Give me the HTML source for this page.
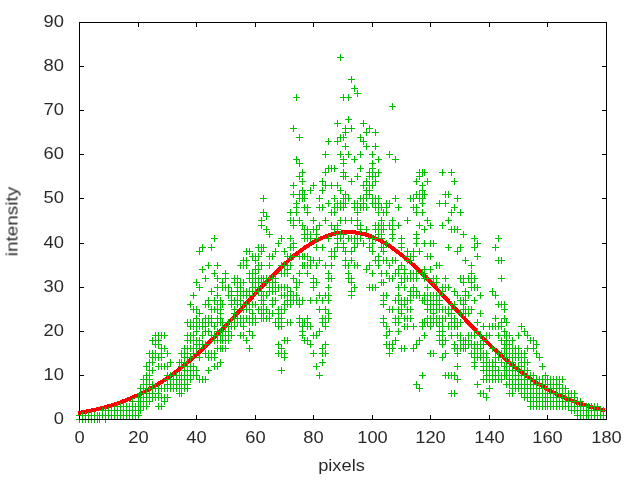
<!DOCTYPE html>
<html><head><meta charset="utf-8"><title>plot</title>
<style>html,body{margin:0;padding:0;background:#fff;overflow:hidden}svg{display:block}text{font-family:"Liberation Sans",sans-serif;font-size:16px;fill:#000}</style></head>
<body>
<svg width="640" height="480" viewBox="0 0 640 480">
<rect width="640" height="480" fill="#fff"/>
<g shape-rendering="crispEdges" fill="none" stroke="#000" stroke-width="1">
<path transform="translate(0,0.5)" d="M79 419h5M602 419h5M79 375h5M602 375h5M79 331h5M602 331h5M79 287h5M602 287h5M79 243h5M602 243h5M79 198h5M602 198h5M79 154h5M602 154h5M79 110h5M602 110h5M79 66h5M602 66h5M79 22h5M602 22h5"/>
<path transform="translate(0.5,0)" d="M79 415v5M79 22v5M138 415v5M138 22v5M196 415v5M196 22v5M255 415v5M255 22v5M313 415v5M313 22v5M372 415v5M372 22v5M430 415v5M430 22v5M489 415v5M489 22v5M547 415v5M547 22v5M606 415v5M606 22v5"/>
</g>
<polyline shape-rendering="crispEdges" fill="none" stroke="#ff0000" stroke-width="4" stroke-linejoin="round" points="78.0,412.8 79.5,412.8 82.4,412.3 85.4,411.7 88.3,411.2 91.2,410.6 94.1,409.9 97.1,409.3 100.0,408.6 102.9,407.8 105.8,407.0 108.8,406.2 111.7,405.3 114.6,404.3 117.6,403.4 120.5,402.3 123.4,401.3 126.3,400.1 129.3,398.9 132.2,397.7 135.1,396.4 138.1,395.0 141.0,393.6 143.9,392.1 146.8,390.6 149.8,389.0 152.7,387.3 155.6,385.6 158.6,383.8 161.5,382.0 164.4,380.0 167.3,378.1 170.3,376.0 173.2,373.9 176.1,371.7 179.0,369.4 182.0,367.1 184.9,364.7 187.8,362.3 190.8,359.8 193.7,357.2 196.6,354.6 199.5,351.9 202.5,349.2 205.4,346.4 208.3,343.5 211.2,340.6 214.2,337.7 217.1,334.7 220.0,331.7 223.0,328.6 225.9,325.6 228.8,322.4 231.7,319.3 234.7,316.1 237.6,313.0 240.5,309.8 243.5,306.6 246.4,303.4 249.3,300.2 252.2,297.0 255.2,293.9 258.1,290.7 261.0,287.6 263.9,284.5 266.9,281.4 269.8,278.4 272.7,275.5 275.7,272.6 278.6,269.7 281.5,266.9 284.4,264.2 287.4,261.6 290.3,259.0 293.2,256.5 296.2,254.2 299.1,251.9 302.0,249.7 304.9,247.6 307.9,245.7 310.8,243.9 313.7,242.1 316.6,240.5 319.6,239.1 322.5,237.7 325.4,236.5 328.4,235.5 331.3,234.5 334.2,233.8 337.1,233.1 340.1,232.6 343.0,232.3 345.9,232.1 348.9,232.0 351.8,232.1 354.7,232.4 357.6,232.8 360.6,233.3 363.5,234.0 366.4,234.8 369.4,235.8 372.3,236.9 375.2,238.1 378.1,239.5 381.1,241.0 384.0,242.6 386.9,244.4 389.8,246.3 392.8,248.3 395.7,250.4 398.6,252.6 401.6,254.9 404.5,257.3 407.4,259.8 410.3,262.4 413.3,265.0 416.2,267.8 419.1,270.6 422.1,273.4 425.0,276.4 427.9,279.3 430.8,282.4 433.8,285.4 436.7,288.5 439.6,291.7 442.5,294.8 445.5,298.0 448.4,301.2 451.3,304.4 454.3,307.5 457.2,310.7 460.1,313.9 463.0,317.1 466.0,320.2 468.9,323.4 471.8,326.5 474.8,329.6 477.7,332.6 480.6,335.6 483.5,338.6 486.5,341.5 489.4,344.4 492.3,347.2 495.2,350.0 498.2,352.7 501.1,355.4 504.0,358.0 507.0,360.5 509.9,363.0 512.8,365.5 515.7,367.8 518.7,370.1 521.6,372.4 524.5,374.5 527.5,376.6 530.4,378.7 533.3,380.6 536.2,382.5 539.2,384.4 542.1,386.1 545.0,387.9 547.9,389.5 550.9,391.1 553.8,392.6 556.7,394.1 559.7,395.5 562.6,396.8 565.5,398.1 568.4,399.3 571.4,400.5 574.3,401.6 577.2,402.7 580.1,403.7 583.1,404.6 586.0,405.5 588.9,406.4 591.9,407.2 594.8,408.0 597.7,408.8 600.6,409.5 603.6,410.1 605.1,410.1"/>
<g shape-rendering="crispEdges" fill="none" stroke="#00c000" stroke-width="1">
<path transform="translate(0,0.5)" d="M76 419h7M76 415h7M79 419h7M79 415h7M82 419h7M82 415h7M85 419h7M85 415h7M88 419h7M88 415h7M91 419h7M91 415h7M94 419h7M94 415h7M96 419h7M96 415h7M99 415h7M99 410h7M102 419h7M102 415h7M102 410h7M105 415h7M105 410h7M108 415h7M108 410h7M111 415h7M111 410h7M114 415h7M114 410h7M114 406h7M117 415h7M117 410h7M117 406h7M120 415h7M120 410h7M120 406h7M123 415h7M123 410h7M123 406h7M126 415h7M126 410h7M126 406h7M129 415h7M129 410h7M129 406h7M129 401h7M132 415h7M132 410h7M132 406h7M135 415h7M135 410h7M135 406h7M135 401h7M135 397h7M137 410h7M137 406h7M137 401h7M137 397h7M137 393h7M137 388h7M140 406h7M140 401h7M140 397h7M140 393h7M140 388h7M140 384h7M140 379h7M143 406h7M143 401h7M143 397h7M143 393h7M143 388h7M143 384h7M143 379h7M143 375h7M143 366h7M146 401h7M146 397h7M146 393h7M146 388h7M146 384h7M146 379h7M146 375h7M146 370h7M146 362h7M146 353h7M149 397h7M149 393h7M149 388h7M149 384h7M149 370h7M149 362h7M149 357h7M149 353h7M149 340h7M152 397h7M152 388h7M152 357h7M152 353h7M152 344h7M152 340h7M152 335h7M155 406h7M155 397h7M155 393h7M155 388h7M155 366h7M155 357h7M155 344h7M155 340h7M155 335h7M158 406h7M158 397h7M158 388h7M158 366h7M158 357h7M158 353h7M158 348h7M158 335h7M161 401h7M161 397h7M161 388h7M161 366h7M161 348h7M161 335h7M164 397h7M164 388h7M164 384h7M164 379h7M164 375h7M164 366h7M164 353h7M167 388h7M167 384h7M167 379h7M167 375h7M167 362h7M170 388h7M170 384h7M170 379h7M170 375h7M173 388h7M173 384h7M173 379h7M173 375h7M176 393h7M176 388h7M176 384h7M176 379h7M176 375h7M176 362h7M178 393h7M178 388h7M178 384h7M178 379h7M178 375h7M178 366h7M178 362h7M178 353h7M181 388h7M181 384h7M181 379h7M181 375h7M181 370h7M181 366h7M181 362h7M181 357h7M181 353h7M181 348h7M184 388h7M184 384h7M184 379h7M184 375h7M184 370h7M184 366h7M184 357h7M184 353h7M184 348h7M184 340h7M184 335h7M184 322h7M187 379h7M187 375h7M187 370h7M187 366h7M187 357h7M187 348h7M187 340h7M187 335h7M187 326h7M187 322h7M187 304h7M190 375h7M190 370h7M190 366h7M190 353h7M190 348h7M190 340h7M190 335h7M190 326h7M190 322h7M190 309h7M190 295h7M193 375h7M193 370h7M193 348h7M193 344h7M193 340h7M193 331h7M193 326h7M193 322h7M193 318h7M193 309h7M193 282h7M196 379h7M196 357h7M196 348h7M196 344h7M196 340h7M196 326h7M196 322h7M196 313h7M196 287h7M196 251h7M199 379h7M199 344h7M199 335h7M199 326h7M199 322h7M199 269h7M199 247h7M202 379h7M202 353h7M202 344h7M202 331h7M202 326h7M202 322h7M202 318h7M202 304h7M202 278h7M205 370h7M205 357h7M205 353h7M205 331h7M205 322h7M205 318h7M205 304h7M205 300h7M205 265h7M208 357h7M208 353h7M208 335h7M208 322h7M208 318h7M208 309h7M208 291h7M208 247h7M211 366h7M211 357h7M211 353h7M211 340h7M211 335h7M211 326h7M211 309h7M211 300h7M211 273h7M211 238h7M214 366h7M214 348h7M214 340h7M214 335h7M214 331h7M214 322h7M214 318h7M214 309h7M214 304h7M214 295h7M214 287h7M214 278h7M214 265h7M217 362h7M217 348h7M217 340h7M217 335h7M217 331h7M217 322h7M217 318h7M217 313h7M217 309h7M217 304h7M217 300h7M219 348h7M219 340h7M219 335h7M219 331h7M219 322h7M219 304h7M219 287h7M219 282h7M222 348h7M222 340h7M222 335h7M222 331h7M222 326h7M222 287h7M222 278h7M222 273h7M225 340h7M225 335h7M225 331h7M225 326h7M225 322h7M225 295h7M225 287h7M228 335h7M228 326h7M228 322h7M228 304h7M228 300h7M228 295h7M228 291h7M231 326h7M231 322h7M231 318h7M231 313h7M231 309h7M231 300h7M231 282h7M231 278h7M234 322h7M234 318h7M234 304h7M234 300h7M234 295h7M234 291h7M234 287h7M234 282h7M234 278h7M237 335h7M237 322h7M237 318h7M237 304h7M237 300h7M237 295h7M237 291h7M237 287h7M237 282h7M237 265h7M240 335h7M240 326h7M240 322h7M240 318h7M240 309h7M240 304h7M240 295h7M240 291h7M240 282h7M240 265h7M240 260h7M243 340h7M243 318h7M243 309h7M243 304h7M243 295h7M243 291h7M243 265h7M243 260h7M243 251h7M246 348h7M246 331h7M246 322h7M246 318h7M246 309h7M246 304h7M246 295h7M246 291h7M246 278h7M246 273h7M246 251h7M249 335h7M249 322h7M249 318h7M249 313h7M249 304h7M249 291h7M249 287h7M249 282h7M249 278h7M249 273h7M249 256h7M252 322h7M252 318h7M252 304h7M252 291h7M252 287h7M252 282h7M252 278h7M252 273h7M252 269h7M252 260h7M252 256h7M255 309h7M255 291h7M255 287h7M255 282h7M255 278h7M255 269h7M255 265h7M255 256h7M255 247h7M258 318h7M258 313h7M258 309h7M258 300h7M258 295h7M258 291h7M258 282h7M258 278h7M258 265h7M258 251h7M258 247h7M258 225h7M258 220h7M260 318h7M260 313h7M260 309h7M260 304h7M260 300h7M260 295h7M260 282h7M260 278h7M260 247h7M260 212h7M260 198h7M263 318h7M263 309h7M263 295h7M263 282h7M263 278h7M263 229h7M263 216h7M266 318h7M266 313h7M266 291h7M266 287h7M266 282h7M266 278h7M266 265h7M266 256h7M266 234h7M269 313h7M269 304h7M269 300h7M269 291h7M269 287h7M269 282h7M269 278h7M269 256h7M272 322h7M272 300h7M272 291h7M272 287h7M272 282h7M272 278h7M272 251h7M275 353h7M275 344h7M275 326h7M275 322h7M275 318h7M275 313h7M275 309h7M275 287h7M275 243h7M278 370h7M278 353h7M278 348h7M278 326h7M278 322h7M278 318h7M278 313h7M278 309h7M278 295h7M278 287h7M278 273h7M278 265h7M278 238h7M281 357h7M281 353h7M281 340h7M281 309h7M281 304h7M281 295h7M281 287h7M281 273h7M281 265h7M281 251h7M284 340h7M284 322h7M284 304h7M284 300h7M284 295h7M284 287h7M284 273h7M284 269h7M284 265h7M284 256h7M287 322h7M287 304h7M287 300h7M287 295h7M287 291h7M287 265h7M287 256h7M287 247h7M287 238h7M287 220h7M287 212h7M290 300h7M290 295h7M290 278h7M290 256h7M290 247h7M290 243h7M290 225h7M290 220h7M290 194h7M290 185h7M290 128h7M293 300h7M293 295h7M293 287h7M293 282h7M293 212h7M293 207h7M293 203h7M293 159h7M293 97h7M296 322h7M296 318h7M296 304h7M296 300h7M296 282h7M296 273h7M296 256h7M296 220h7M296 198h7M296 194h7M296 176h7M296 163h7M296 137h7M299 335h7M299 331h7M299 326h7M299 322h7M299 300h7M299 265h7M299 256h7M299 225h7M299 198h7M299 194h7M299 190h7M299 181h7M299 172h7M301 340h7M301 322h7M301 265h7M301 256h7M301 238h7M301 234h7M301 229h7M301 207h7M301 198h7M301 194h7M304 340h7M304 326h7M304 322h7M304 318h7M304 273h7M304 265h7M304 256h7M304 238h7M304 234h7M304 229h7M304 212h7M304 207h7M307 344h7M307 326h7M307 300h7M307 265h7M307 260h7M307 238h7M307 234h7M307 190h7M310 353h7M310 335h7M310 287h7M310 282h7M310 278h7M310 260h7M310 229h7M310 220h7M310 185h7M313 366h7M313 335h7M313 300h7M313 282h7M313 265h7M313 247h7M313 238h7M313 234h7M313 229h7M316 375h7M316 331h7M316 309h7M316 295h7M316 260h7M316 225h7M316 207h7M316 198h7M319 362h7M319 353h7M319 348h7M319 322h7M319 318h7M319 300h7M319 247h7M319 207h7M319 190h7M319 181h7M322 353h7M322 344h7M322 326h7M322 322h7M322 318h7M322 309h7M322 295h7M322 265h7M322 220h7M322 185h7M322 172h7M322 154h7M325 318h7M325 313h7M325 300h7M325 295h7M325 287h7M325 278h7M325 273h7M325 238h7M325 203h7M325 168h7M325 141h7M328 278h7M328 265h7M328 256h7M328 251h7M328 225h7M328 212h7M328 185h7M328 168h7M331 256h7M331 251h7M331 229h7M331 212h7M331 207h7M331 198h7M331 168h7M334 247h7M334 243h7M334 238h7M334 234h7M334 229h7M334 225h7M334 207h7M334 203h7M334 185h7M334 141h7M334 123h7M337 238h7M337 234h7M337 220h7M337 207h7M337 203h7M337 190h7M337 154h7M337 137h7M337 57h7M340 247h7M340 243h7M340 234h7M340 207h7M340 203h7M340 198h7M340 176h7M340 172h7M340 163h7M340 159h7M340 137h7M340 97h7M342 265h7M342 260h7M342 251h7M342 220h7M342 203h7M342 198h7M342 194h7M342 176h7M342 146h7M342 132h7M342 128h7M345 278h7M345 273h7M345 265h7M345 238h7M345 198h7M345 154h7M345 119h7M345 97h7M348 295h7M348 291h7M348 282h7M348 278h7M348 260h7M348 251h7M348 238h7M348 220h7M348 181h7M348 128h7M348 79h7M351 287h7M351 265h7M351 247h7M351 243h7M351 238h7M351 207h7M351 203h7M351 159h7M351 88h7M354 265h7M354 243h7M354 238h7M354 225h7M354 220h7M354 212h7M354 207h7M354 203h7M354 176h7M354 93h7M357 238h7M357 229h7M357 225h7M357 207h7M357 198h7M357 168h7M357 154h7M357 137h7M360 243h7M360 207h7M360 203h7M360 198h7M360 185h7M360 141h7M360 123h7M363 269h7M363 229h7M363 207h7M363 198h7M363 194h7M363 190h7M363 181h7M363 146h7M363 132h7M366 287h7M366 265h7M366 247h7M366 238h7M366 194h7M366 190h7M366 185h7M366 176h7M366 172h7M366 128h7M369 287h7M369 273h7M369 251h7M369 243h7M369 238h7M369 203h7M369 198h7M369 185h7M369 176h7M369 172h7M369 168h7M369 163h7M369 154h7M372 287h7M372 260h7M372 238h7M372 229h7M372 225h7M372 207h7M372 203h7M372 198h7M372 181h7M372 176h7M372 146h7M372 132h7M375 265h7M375 260h7M375 256h7M375 234h7M375 229h7M375 225h7M375 212h7M375 207h7M375 203h7M375 198h7M375 172h7M375 159h7M378 282h7M378 273h7M378 247h7M378 238h7M378 234h7M378 229h7M378 225h7M378 220h7M378 207h7M380 322h7M380 318h7M380 304h7M380 300h7M380 295h7M380 282h7M380 260h7M380 251h7M380 247h7M380 229h7M380 225h7M380 212h7M383 344h7M383 335h7M383 326h7M383 295h7M383 273h7M383 260h7M383 243h7M383 212h7M383 207h7M383 203h7M386 353h7M386 348h7M386 344h7M386 331h7M386 309h7M386 278h7M386 265h7M386 225h7M386 203h7M386 154h7M389 348h7M389 344h7M389 309h7M389 278h7M389 260h7M389 238h7M389 234h7M389 229h7M389 225h7M389 220h7M389 106h7M392 340h7M392 322h7M392 318h7M392 300h7M392 273h7M392 260h7M392 198h7M392 159h7M395 331h7M395 322h7M395 318h7M395 309h7M395 300h7M395 295h7M395 287h7M395 273h7M395 269h7M395 225h7M395 207h7M398 348h7M398 313h7M398 309h7M398 304h7M398 300h7M398 282h7M398 278h7M398 265h7M398 247h7M398 243h7M398 238h7M401 348h7M401 326h7M401 318h7M401 304h7M401 300h7M401 287h7M401 278h7M401 273h7M401 269h7M404 326h7M404 318h7M404 309h7M404 300h7M404 278h7M404 260h7M404 256h7M404 251h7M404 220h7M407 318h7M407 309h7M407 300h7M407 295h7M407 291h7M407 278h7M407 273h7M407 260h7M407 256h7M407 198h7M410 348h7M410 326h7M410 295h7M410 291h7M410 287h7M410 278h7M410 273h7M410 256h7M410 251h7M410 207h7M410 198h7M413 384h7M413 344h7M413 295h7M413 291h7M413 278h7M413 273h7M413 243h7M413 238h7M413 234h7M413 212h7M413 207h7M413 194h7M413 181h7M416 388h7M416 340h7M416 295h7M416 251h7M416 225h7M416 198h7M416 194h7M416 176h7M416 172h7M419 375h7M419 326h7M419 322h7M419 300h7M419 273h7M419 212h7M419 203h7M419 198h7M419 194h7M419 190h7M419 185h7M419 172h7M421 335h7M421 322h7M421 300h7M421 295h7M421 278h7M421 273h7M421 269h7M421 243h7M421 229h7M421 194h7M421 172h7M424 322h7M424 318h7M424 309h7M424 304h7M424 300h7M424 295h7M424 287h7M424 278h7M424 256h7M424 220h7M424 181h7M427 353h7M427 326h7M427 322h7M427 318h7M427 309h7M427 304h7M427 300h7M427 295h7M427 269h7M427 256h7M427 243h7M427 225h7M430 353h7M430 322h7M430 318h7M430 313h7M430 309h7M430 304h7M430 300h7M430 295h7M430 282h7M430 278h7M430 243h7M433 322h7M433 318h7M433 309h7M433 304h7M433 300h7M433 295h7M433 282h7M433 278h7M433 265h7M436 340h7M436 335h7M436 331h7M436 326h7M436 322h7M436 318h7M436 309h7M436 304h7M436 300h7M436 295h7M436 265h7M436 203h7M439 357h7M439 344h7M439 340h7M439 335h7M439 331h7M439 326h7M439 318h7M439 309h7M439 291h7M439 287h7M439 225h7M439 172h7M442 375h7M442 353h7M442 340h7M442 318h7M442 309h7M442 287h7M442 278h7M442 203h7M442 194h7M445 375h7M445 326h7M445 313h7M445 309h7M445 287h7M445 247h7M445 220h7M445 194h7M448 393h7M448 375h7M448 335h7M448 326h7M448 322h7M448 318h7M448 313h7M448 309h7M448 304h7M448 229h7M448 212h7M448 172h7M451 393h7M451 375h7M451 348h7M451 344h7M451 326h7M451 322h7M451 318h7M451 304h7M451 291h7M451 229h7M451 207h7M451 181h7M454 379h7M454 366h7M454 353h7M454 348h7M454 335h7M454 326h7M454 322h7M454 295h7M454 251h7M454 229h7M454 198h7M457 348h7M457 340h7M457 335h7M457 322h7M457 313h7M457 300h7M457 278h7M457 247h7M457 212h7M460 348h7M460 344h7M460 340h7M460 313h7M460 309h7M460 304h7M460 300h7M460 282h7M460 278h7M460 234h7M462 348h7M462 344h7M462 340h7M462 313h7M462 309h7M462 300h7M462 295h7M462 291h7M462 260h7M465 344h7M465 340h7M465 335h7M465 313h7M465 309h7M465 295h7M465 278h7M468 353h7M468 344h7M468 335h7M468 309h7M468 287h7M468 282h7M468 278h7M468 273h7M468 265h7M471 366h7M471 362h7M471 357h7M471 353h7M471 348h7M471 344h7M471 335h7M471 300h7M471 287h7M471 278h7M471 247h7M471 238h7M474 384h7M474 357h7M474 353h7M474 348h7M474 344h7M474 331h7M474 322h7M474 287h7M474 256h7M474 243h7M477 393h7M477 357h7M477 353h7M477 348h7M477 344h7M477 335h7M477 313h7M477 295h7M480 393h7M480 379h7M480 370h7M480 366h7M480 362h7M480 357h7M480 353h7M480 344h7M480 340h7M480 326h7M483 397h7M483 379h7M483 375h7M483 370h7M483 366h7M483 362h7M483 357h7M483 353h7M483 335h7M486 388h7M486 379h7M486 375h7M486 370h7M486 366h7M486 362h7M486 335h7M486 326h7M489 379h7M489 375h7M489 370h7M489 366h7M489 362h7M489 348h7M489 326h7M489 291h7M492 379h7M492 375h7M492 370h7M492 366h7M492 362h7M492 357h7M492 326h7M492 318h7M492 295h7M492 247h7M495 379h7M495 375h7M495 370h7M495 357h7M495 353h7M495 335h7M495 326h7M495 304h7M495 260h7M495 238h7M498 379h7M498 375h7M498 362h7M498 353h7M498 340h7M498 326h7M498 322h7M498 304h7M498 278h7M498 260h7M501 375h7M501 370h7M501 366h7M501 353h7M501 348h7M501 344h7M501 335h7M501 331h7M501 318h7M501 309h7M501 304h7M503 384h7M503 375h7M503 370h7M503 366h7M503 357h7M503 353h7M503 348h7M503 344h7M503 340h7M503 335h7M503 322h7M506 393h7M506 384h7M506 379h7M506 375h7M506 370h7M506 366h7M506 362h7M506 357h7M506 353h7M506 348h7M506 344h7M506 335h7M509 393h7M509 388h7M509 384h7M509 379h7M509 375h7M509 370h7M509 366h7M509 362h7M509 357h7M509 353h7M509 348h7M509 340h7M512 388h7M512 384h7M512 379h7M512 375h7M512 370h7M512 366h7M512 357h7M512 353h7M512 348h7M515 388h7M515 384h7M515 379h7M515 375h7M515 370h7M515 366h7M515 357h7M515 353h7M515 348h7M515 335h7M518 393h7M518 388h7M518 384h7M518 379h7M518 375h7M518 370h7M518 366h7M518 362h7M518 357h7M518 353h7M518 326h7M521 397h7M521 393h7M521 388h7M521 384h7M521 379h7M521 375h7M521 370h7M521 362h7M521 357h7M521 353h7M521 331h7M524 397h7M524 393h7M524 388h7M524 384h7M524 379h7M524 375h7M524 370h7M524 362h7M524 348h7M524 335h7M527 406h7M527 401h7M527 397h7M527 393h7M527 388h7M527 384h7M527 379h7M527 375h7M527 340h7M530 406h7M530 401h7M530 397h7M530 393h7M530 388h7M530 384h7M530 379h7M530 375h7M530 348h7M530 340h7M533 406h7M533 401h7M533 397h7M533 393h7M533 388h7M533 384h7M533 379h7M533 353h7M533 344h7M536 406h7M536 401h7M536 397h7M536 393h7M536 388h7M536 384h7M536 379h7M536 357h7M539 406h7M539 401h7M539 397h7M539 393h7M539 388h7M539 384h7M539 379h7M539 366h7M542 406h7M542 401h7M542 397h7M542 393h7M542 388h7M542 384h7M542 379h7M542 375h7M544 406h7M544 401h7M544 397h7M544 393h7M544 388h7M544 384h7M544 379h7M547 406h7M547 401h7M547 397h7M547 393h7M547 388h7M547 384h7M547 379h7M550 406h7M550 401h7M550 397h7M550 393h7M550 388h7M550 384h7M550 379h7M553 406h7M553 401h7M553 397h7M553 393h7M553 388h7M553 384h7M553 379h7M556 406h7M556 401h7M556 397h7M556 393h7M556 388h7M556 384h7M556 379h7M559 406h7M559 401h7M559 397h7M559 393h7M559 388h7M559 379h7M562 406h7M562 401h7M562 397h7M562 393h7M562 388h7M565 406h7M565 401h7M565 397h7M565 393h7M568 410h7M568 406h7M568 401h7M568 397h7M568 393h7M571 410h7M571 406h7M571 401h7M571 397h7M571 393h7M574 415h7M574 410h7M574 406h7M574 401h7M577 415h7M577 410h7M577 406h7M577 401h7M580 415h7M580 410h7M580 406h7M583 415h7M583 410h7M583 406h7M585 415h7M585 410h7M585 406h7M588 415h7M588 410h7M588 406h7M591 415h7M591 410h7M591 406h7M594 415h7M594 410h7M594 406h7M597 415h7M597 410h7M600 415h7M600 410h7"/>
<path transform="translate(0.5,0)" d="M79 416v7M79 412v7M82 416v7M82 412v7M85 416v7M85 412v7M88 416v7M88 412v7M91 416v7M91 412v7M94 416v7M94 412v7M97 416v7M97 412v7M99 416v7M99 412v7M102 412v7M102 407v7M105 416v7M105 412v7M105 407v7M108 412v7M108 407v7M111 412v7M111 407v7M114 412v7M114 407v7M117 412v7M117 407v7M117 403v7M120 412v7M120 407v7M120 403v7M123 412v7M123 407v7M123 403v7M126 412v7M126 407v7M126 403v7M129 412v7M129 407v7M129 403v7M132 412v7M132 407v7M132 403v7M132 398v7M135 412v7M135 407v7M135 403v7M138 412v7M138 407v7M138 403v7M138 398v7M138 394v7M140 407v7M140 403v7M140 398v7M140 394v7M140 390v7M140 385v7M143 403v7M143 398v7M143 394v7M143 390v7M143 385v7M143 381v7M143 376v7M146 403v7M146 398v7M146 394v7M146 390v7M146 385v7M146 381v7M146 376v7M146 372v7M146 363v7M149 398v7M149 394v7M149 390v7M149 385v7M149 381v7M149 376v7M149 372v7M149 367v7M149 359v7M149 350v7M152 394v7M152 390v7M152 385v7M152 381v7M152 367v7M152 359v7M152 354v7M152 350v7M152 337v7M155 394v7M155 385v7M155 354v7M155 350v7M155 341v7M155 337v7M155 332v7M158 403v7M158 394v7M158 390v7M158 385v7M158 363v7M158 354v7M158 341v7M158 337v7M158 332v7M161 403v7M161 394v7M161 385v7M161 363v7M161 354v7M161 350v7M161 345v7M161 332v7M164 398v7M164 394v7M164 385v7M164 363v7M164 345v7M164 332v7M167 394v7M167 385v7M167 381v7M167 376v7M167 372v7M167 363v7M167 350v7M170 385v7M170 381v7M170 376v7M170 372v7M170 359v7M173 385v7M173 381v7M173 376v7M173 372v7M176 385v7M176 381v7M176 376v7M176 372v7M179 390v7M179 385v7M179 381v7M179 376v7M179 372v7M179 359v7M181 390v7M181 385v7M181 381v7M181 376v7M181 372v7M181 363v7M181 359v7M181 350v7M184 385v7M184 381v7M184 376v7M184 372v7M184 367v7M184 363v7M184 359v7M184 354v7M184 350v7M184 345v7M187 385v7M187 381v7M187 376v7M187 372v7M187 367v7M187 363v7M187 354v7M187 350v7M187 345v7M187 337v7M187 332v7M187 319v7M190 376v7M190 372v7M190 367v7M190 363v7M190 354v7M190 345v7M190 337v7M190 332v7M190 323v7M190 319v7M190 301v7M193 372v7M193 367v7M193 363v7M193 350v7M193 345v7M193 337v7M193 332v7M193 323v7M193 319v7M193 306v7M193 292v7M196 372v7M196 367v7M196 345v7M196 341v7M196 337v7M196 328v7M196 323v7M196 319v7M196 315v7M196 306v7M196 279v7M199 376v7M199 354v7M199 345v7M199 341v7M199 337v7M199 323v7M199 319v7M199 310v7M199 284v7M199 248v7M202 376v7M202 341v7M202 332v7M202 323v7M202 319v7M202 266v7M202 244v7M205 376v7M205 350v7M205 341v7M205 328v7M205 323v7M205 319v7M205 315v7M205 301v7M205 275v7M208 367v7M208 354v7M208 350v7M208 328v7M208 319v7M208 315v7M208 301v7M208 297v7M208 262v7M211 354v7M211 350v7M211 332v7M211 319v7M211 315v7M211 306v7M211 288v7M211 244v7M214 363v7M214 354v7M214 350v7M214 337v7M214 332v7M214 323v7M214 306v7M214 297v7M214 270v7M214 235v7M217 363v7M217 345v7M217 337v7M217 332v7M217 328v7M217 319v7M217 315v7M217 306v7M217 301v7M217 292v7M217 284v7M217 275v7M217 262v7M220 359v7M220 345v7M220 337v7M220 332v7M220 328v7M220 319v7M220 315v7M220 310v7M220 306v7M220 301v7M220 297v7M222 345v7M222 337v7M222 332v7M222 328v7M222 319v7M222 301v7M222 284v7M222 279v7M225 345v7M225 337v7M225 332v7M225 328v7M225 323v7M225 284v7M225 275v7M225 270v7M228 337v7M228 332v7M228 328v7M228 323v7M228 319v7M228 292v7M228 284v7M231 332v7M231 323v7M231 319v7M231 301v7M231 297v7M231 292v7M231 288v7M234 323v7M234 319v7M234 315v7M234 310v7M234 306v7M234 297v7M234 279v7M234 275v7M237 319v7M237 315v7M237 301v7M237 297v7M237 292v7M237 288v7M237 284v7M237 279v7M237 275v7M240 332v7M240 319v7M240 315v7M240 301v7M240 297v7M240 292v7M240 288v7M240 284v7M240 279v7M240 262v7M243 332v7M243 323v7M243 319v7M243 315v7M243 306v7M243 301v7M243 292v7M243 288v7M243 279v7M243 262v7M243 257v7M246 337v7M246 315v7M246 306v7M246 301v7M246 292v7M246 288v7M246 262v7M246 257v7M246 248v7M249 345v7M249 328v7M249 319v7M249 315v7M249 306v7M249 301v7M249 292v7M249 288v7M249 275v7M249 270v7M249 248v7M252 332v7M252 319v7M252 315v7M252 310v7M252 301v7M252 288v7M252 284v7M252 279v7M252 275v7M252 270v7M252 253v7M255 319v7M255 315v7M255 301v7M255 288v7M255 284v7M255 279v7M255 275v7M255 270v7M255 266v7M255 257v7M255 253v7M258 306v7M258 288v7M258 284v7M258 279v7M258 275v7M258 266v7M258 262v7M258 253v7M258 244v7M261 315v7M261 310v7M261 306v7M261 297v7M261 292v7M261 288v7M261 279v7M261 275v7M261 262v7M261 248v7M261 244v7M261 222v7M261 217v7M263 315v7M263 310v7M263 306v7M263 301v7M263 297v7M263 292v7M263 279v7M263 275v7M263 244v7M263 209v7M263 195v7M266 315v7M266 306v7M266 292v7M266 279v7M266 275v7M266 226v7M266 213v7M269 315v7M269 310v7M269 288v7M269 284v7M269 279v7M269 275v7M269 262v7M269 253v7M269 231v7M272 310v7M272 301v7M272 297v7M272 288v7M272 284v7M272 279v7M272 275v7M272 253v7M275 319v7M275 297v7M275 288v7M275 284v7M275 279v7M275 275v7M275 248v7M278 350v7M278 341v7M278 323v7M278 319v7M278 315v7M278 310v7M278 306v7M278 284v7M278 240v7M281 367v7M281 350v7M281 345v7M281 323v7M281 319v7M281 315v7M281 310v7M281 306v7M281 292v7M281 284v7M281 270v7M281 262v7M281 235v7M284 354v7M284 350v7M284 337v7M284 306v7M284 301v7M284 292v7M284 284v7M284 270v7M284 262v7M284 248v7M287 337v7M287 319v7M287 301v7M287 297v7M287 292v7M287 284v7M287 270v7M287 266v7M287 262v7M287 253v7M290 319v7M290 301v7M290 297v7M290 292v7M290 288v7M290 262v7M290 253v7M290 244v7M290 235v7M290 217v7M290 209v7M293 297v7M293 292v7M293 275v7M293 253v7M293 244v7M293 240v7M293 222v7M293 217v7M293 191v7M293 182v7M293 125v7M296 297v7M296 292v7M296 284v7M296 279v7M296 209v7M296 204v7M296 200v7M296 156v7M296 94v7M299 319v7M299 315v7M299 301v7M299 297v7M299 279v7M299 270v7M299 253v7M299 217v7M299 195v7M299 191v7M299 173v7M299 160v7M299 134v7M302 332v7M302 328v7M302 323v7M302 319v7M302 297v7M302 262v7M302 253v7M302 222v7M302 195v7M302 191v7M302 187v7M302 178v7M302 169v7M304 337v7M304 319v7M304 262v7M304 253v7M304 235v7M304 231v7M304 226v7M304 204v7M304 195v7M304 191v7M307 337v7M307 323v7M307 319v7M307 315v7M307 270v7M307 262v7M307 253v7M307 235v7M307 231v7M307 226v7M307 209v7M307 204v7M310 341v7M310 323v7M310 297v7M310 262v7M310 257v7M310 235v7M310 231v7M310 187v7M313 350v7M313 332v7M313 284v7M313 279v7M313 275v7M313 257v7M313 226v7M313 217v7M313 182v7M316 363v7M316 332v7M316 297v7M316 279v7M316 262v7M316 244v7M316 235v7M316 231v7M316 226v7M319 372v7M319 328v7M319 306v7M319 292v7M319 257v7M319 222v7M319 204v7M319 195v7M322 359v7M322 350v7M322 345v7M322 319v7M322 315v7M322 297v7M322 244v7M322 204v7M322 187v7M322 178v7M325 350v7M325 341v7M325 323v7M325 319v7M325 315v7M325 306v7M325 292v7M325 262v7M325 217v7M325 182v7M325 169v7M325 151v7M328 315v7M328 310v7M328 297v7M328 292v7M328 284v7M328 275v7M328 270v7M328 235v7M328 200v7M328 165v7M328 138v7M331 275v7M331 262v7M331 253v7M331 248v7M331 222v7M331 209v7M331 182v7M331 165v7M334 253v7M334 248v7M334 226v7M334 209v7M334 204v7M334 195v7M334 165v7M337 244v7M337 240v7M337 235v7M337 231v7M337 226v7M337 222v7M337 204v7M337 200v7M337 182v7M337 138v7M337 120v7M340 235v7M340 231v7M340 217v7M340 204v7M340 200v7M340 187v7M340 151v7M340 134v7M340 54v7M343 244v7M343 240v7M343 231v7M343 204v7M343 200v7M343 195v7M343 173v7M343 169v7M343 160v7M343 156v7M343 134v7M343 94v7M345 262v7M345 257v7M345 248v7M345 217v7M345 200v7M345 195v7M345 191v7M345 173v7M345 143v7M345 129v7M345 125v7M348 275v7M348 270v7M348 262v7M348 235v7M348 195v7M348 151v7M348 116v7M348 94v7M351 292v7M351 288v7M351 279v7M351 275v7M351 257v7M351 248v7M351 235v7M351 217v7M351 178v7M351 125v7M351 76v7M354 284v7M354 262v7M354 244v7M354 240v7M354 235v7M354 204v7M354 200v7M354 156v7M354 85v7M357 262v7M357 240v7M357 235v7M357 222v7M357 217v7M357 209v7M357 204v7M357 200v7M357 173v7M357 90v7M360 235v7M360 226v7M360 222v7M360 204v7M360 195v7M360 165v7M360 151v7M360 134v7M363 240v7M363 204v7M363 200v7M363 195v7M363 182v7M363 138v7M363 120v7M366 266v7M366 226v7M366 204v7M366 195v7M366 191v7M366 187v7M366 178v7M366 143v7M366 129v7M369 284v7M369 262v7M369 244v7M369 235v7M369 191v7M369 187v7M369 182v7M369 173v7M369 169v7M369 125v7M372 284v7M372 270v7M372 248v7M372 240v7M372 235v7M372 200v7M372 195v7M372 182v7M372 173v7M372 169v7M372 165v7M372 160v7M372 151v7M375 284v7M375 257v7M375 235v7M375 226v7M375 222v7M375 204v7M375 200v7M375 195v7M375 178v7M375 173v7M375 143v7M375 129v7M378 262v7M378 257v7M378 253v7M378 231v7M378 226v7M378 222v7M378 209v7M378 204v7M378 200v7M378 195v7M378 169v7M378 156v7M381 279v7M381 270v7M381 244v7M381 235v7M381 231v7M381 226v7M381 222v7M381 217v7M381 204v7M383 319v7M383 315v7M383 301v7M383 297v7M383 292v7M383 279v7M383 257v7M383 248v7M383 244v7M383 226v7M383 222v7M383 209v7M386 341v7M386 332v7M386 323v7M386 292v7M386 270v7M386 257v7M386 240v7M386 209v7M386 204v7M386 200v7M389 350v7M389 345v7M389 341v7M389 328v7M389 306v7M389 275v7M389 262v7M389 222v7M389 200v7M389 151v7M392 345v7M392 341v7M392 306v7M392 275v7M392 257v7M392 235v7M392 231v7M392 226v7M392 222v7M392 217v7M392 103v7M395 337v7M395 319v7M395 315v7M395 297v7M395 270v7M395 257v7M395 195v7M395 156v7M398 328v7M398 319v7M398 315v7M398 306v7M398 297v7M398 292v7M398 284v7M398 270v7M398 266v7M398 222v7M398 204v7M401 345v7M401 310v7M401 306v7M401 301v7M401 297v7M401 279v7M401 275v7M401 262v7M401 244v7M401 240v7M401 235v7M404 345v7M404 323v7M404 315v7M404 301v7M404 297v7M404 284v7M404 275v7M404 270v7M404 266v7M407 323v7M407 315v7M407 306v7M407 297v7M407 275v7M407 257v7M407 253v7M407 248v7M407 217v7M410 315v7M410 306v7M410 297v7M410 292v7M410 288v7M410 275v7M410 270v7M410 257v7M410 253v7M410 195v7M413 345v7M413 323v7M413 292v7M413 288v7M413 284v7M413 275v7M413 270v7M413 253v7M413 248v7M413 204v7M413 195v7M416 381v7M416 341v7M416 292v7M416 288v7M416 275v7M416 270v7M416 240v7M416 235v7M416 231v7M416 209v7M416 204v7M416 191v7M416 178v7M419 385v7M419 337v7M419 292v7M419 248v7M419 222v7M419 195v7M419 191v7M419 173v7M419 169v7M422 372v7M422 323v7M422 319v7M422 297v7M422 270v7M422 209v7M422 200v7M422 195v7M422 191v7M422 187v7M422 182v7M422 169v7M424 332v7M424 319v7M424 297v7M424 292v7M424 275v7M424 270v7M424 266v7M424 240v7M424 226v7M424 191v7M424 169v7M427 319v7M427 315v7M427 306v7M427 301v7M427 297v7M427 292v7M427 284v7M427 275v7M427 253v7M427 217v7M427 178v7M430 350v7M430 323v7M430 319v7M430 315v7M430 306v7M430 301v7M430 297v7M430 292v7M430 266v7M430 253v7M430 240v7M430 222v7M433 350v7M433 319v7M433 315v7M433 310v7M433 306v7M433 301v7M433 297v7M433 292v7M433 279v7M433 275v7M433 240v7M436 319v7M436 315v7M436 306v7M436 301v7M436 297v7M436 292v7M436 279v7M436 275v7M436 262v7M439 337v7M439 332v7M439 328v7M439 323v7M439 319v7M439 315v7M439 306v7M439 301v7M439 297v7M439 292v7M439 262v7M439 200v7M442 354v7M442 341v7M442 337v7M442 332v7M442 328v7M442 323v7M442 315v7M442 306v7M442 288v7M442 284v7M442 222v7M442 169v7M445 372v7M445 350v7M445 337v7M445 315v7M445 306v7M445 284v7M445 275v7M445 200v7M445 191v7M448 372v7M448 323v7M448 310v7M448 306v7M448 284v7M448 244v7M448 217v7M448 191v7M451 390v7M451 372v7M451 332v7M451 323v7M451 319v7M451 315v7M451 310v7M451 306v7M451 301v7M451 226v7M451 209v7M451 169v7M454 390v7M454 372v7M454 345v7M454 341v7M454 323v7M454 319v7M454 315v7M454 301v7M454 288v7M454 226v7M454 204v7M454 178v7M457 376v7M457 363v7M457 350v7M457 345v7M457 332v7M457 323v7M457 319v7M457 292v7M457 248v7M457 226v7M457 195v7M460 345v7M460 337v7M460 332v7M460 319v7M460 310v7M460 297v7M460 275v7M460 244v7M460 209v7M463 345v7M463 341v7M463 337v7M463 310v7M463 306v7M463 301v7M463 297v7M463 279v7M463 275v7M463 231v7M465 345v7M465 341v7M465 337v7M465 310v7M465 306v7M465 297v7M465 292v7M465 288v7M465 257v7M468 341v7M468 337v7M468 332v7M468 310v7M468 306v7M468 292v7M468 275v7M471 350v7M471 341v7M471 332v7M471 306v7M471 284v7M471 279v7M471 275v7M471 270v7M471 262v7M474 363v7M474 359v7M474 354v7M474 350v7M474 345v7M474 341v7M474 332v7M474 297v7M474 284v7M474 275v7M474 244v7M474 235v7M477 381v7M477 354v7M477 350v7M477 345v7M477 341v7M477 328v7M477 319v7M477 284v7M477 253v7M477 240v7M480 390v7M480 354v7M480 350v7M480 345v7M480 341v7M480 332v7M480 310v7M480 292v7M483 390v7M483 376v7M483 367v7M483 363v7M483 359v7M483 354v7M483 350v7M483 341v7M483 337v7M483 323v7M486 394v7M486 376v7M486 372v7M486 367v7M486 363v7M486 359v7M486 354v7M486 350v7M486 332v7M489 385v7M489 376v7M489 372v7M489 367v7M489 363v7M489 359v7M489 332v7M489 323v7M492 376v7M492 372v7M492 367v7M492 363v7M492 359v7M492 345v7M492 323v7M492 288v7M495 376v7M495 372v7M495 367v7M495 363v7M495 359v7M495 354v7M495 323v7M495 315v7M495 292v7M495 244v7M498 376v7M498 372v7M498 367v7M498 354v7M498 350v7M498 332v7M498 323v7M498 301v7M498 257v7M498 235v7M501 376v7M501 372v7M501 359v7M501 350v7M501 337v7M501 323v7M501 319v7M501 301v7M501 275v7M501 257v7M504 372v7M504 367v7M504 363v7M504 350v7M504 345v7M504 341v7M504 332v7M504 328v7M504 315v7M504 306v7M504 301v7M506 381v7M506 372v7M506 367v7M506 363v7M506 354v7M506 350v7M506 345v7M506 341v7M506 337v7M506 332v7M506 319v7M509 390v7M509 381v7M509 376v7M509 372v7M509 367v7M509 363v7M509 359v7M509 354v7M509 350v7M509 345v7M509 341v7M509 332v7M512 390v7M512 385v7M512 381v7M512 376v7M512 372v7M512 367v7M512 363v7M512 359v7M512 354v7M512 350v7M512 345v7M512 337v7M515 385v7M515 381v7M515 376v7M515 372v7M515 367v7M515 363v7M515 354v7M515 350v7M515 345v7M518 385v7M518 381v7M518 376v7M518 372v7M518 367v7M518 363v7M518 354v7M518 350v7M518 345v7M518 332v7M521 390v7M521 385v7M521 381v7M521 376v7M521 372v7M521 367v7M521 363v7M521 359v7M521 354v7M521 350v7M521 323v7M524 394v7M524 390v7M524 385v7M524 381v7M524 376v7M524 372v7M524 367v7M524 359v7M524 354v7M524 350v7M524 328v7M527 394v7M527 390v7M527 385v7M527 381v7M527 376v7M527 372v7M527 367v7M527 359v7M527 345v7M527 332v7M530 403v7M530 398v7M530 394v7M530 390v7M530 385v7M530 381v7M530 376v7M530 372v7M530 337v7M533 403v7M533 398v7M533 394v7M533 390v7M533 385v7M533 381v7M533 376v7M533 372v7M533 345v7M533 337v7M536 403v7M536 398v7M536 394v7M536 390v7M536 385v7M536 381v7M536 376v7M536 350v7M536 341v7M539 403v7M539 398v7M539 394v7M539 390v7M539 385v7M539 381v7M539 376v7M539 354v7M542 403v7M542 398v7M542 394v7M542 390v7M542 385v7M542 381v7M542 376v7M542 363v7M545 403v7M545 398v7M545 394v7M545 390v7M545 385v7M545 381v7M545 376v7M545 372v7M547 403v7M547 398v7M547 394v7M547 390v7M547 385v7M547 381v7M547 376v7M550 403v7M550 398v7M550 394v7M550 390v7M550 385v7M550 381v7M550 376v7M553 403v7M553 398v7M553 394v7M553 390v7M553 385v7M553 381v7M553 376v7M556 403v7M556 398v7M556 394v7M556 390v7M556 385v7M556 381v7M556 376v7M559 403v7M559 398v7M559 394v7M559 390v7M559 385v7M559 381v7M559 376v7M562 403v7M562 398v7M562 394v7M562 390v7M562 385v7M562 376v7M565 403v7M565 398v7M565 394v7M565 390v7M565 385v7M568 403v7M568 398v7M568 394v7M568 390v7M571 407v7M571 403v7M571 398v7M571 394v7M571 390v7M574 407v7M574 403v7M574 398v7M574 394v7M574 390v7M577 412v7M577 407v7M577 403v7M577 398v7M580 412v7M580 407v7M580 403v7M580 398v7M583 412v7M583 407v7M583 403v7M586 412v7M586 407v7M586 403v7M588 412v7M588 407v7M588 403v7M591 412v7M591 407v7M591 403v7M594 412v7M594 407v7M594 403v7M597 412v7M597 407v7M597 403v7M600 412v7M600 407v7M603 412v7M603 407v7"/>
</g>
<g shape-rendering="crispEdges" fill="none" stroke="#000" stroke-width="1">
<path transform="translate(0,0.5)" d="M79 22H607M79 419H607"/>
<path transform="translate(0.5,0)" d="M79 22V420M606 22V420"/>
</g>
<g opacity="0.85">
<text x="64" y="424.0" text-anchor="end" textLength="10.2" lengthAdjust="spacingAndGlyphs">0</text>
<text x="64" y="380.0" text-anchor="end" textLength="20.4" lengthAdjust="spacingAndGlyphs">10</text>
<text x="64" y="336.0" text-anchor="end" textLength="20.4" lengthAdjust="spacingAndGlyphs">20</text>
<text x="64" y="292.0" text-anchor="end" textLength="20.4" lengthAdjust="spacingAndGlyphs">30</text>
<text x="64" y="248.0" text-anchor="end" textLength="20.4" lengthAdjust="spacingAndGlyphs">40</text>
<text x="64" y="203.0" text-anchor="end" textLength="20.4" lengthAdjust="spacingAndGlyphs">50</text>
<text x="64" y="159.0" text-anchor="end" textLength="20.4" lengthAdjust="spacingAndGlyphs">60</text>
<text x="64" y="115.0" text-anchor="end" textLength="20.4" lengthAdjust="spacingAndGlyphs">70</text>
<text x="64" y="71.0" text-anchor="end" textLength="20.4" lengthAdjust="spacingAndGlyphs">80</text>
<text x="64" y="27.0" text-anchor="end" textLength="20.4" lengthAdjust="spacingAndGlyphs">90</text>
<text x="79.5" y="443" text-anchor="middle" textLength="10.2" lengthAdjust="spacingAndGlyphs">0</text>
<text x="138.5" y="443" text-anchor="middle" textLength="20.4" lengthAdjust="spacingAndGlyphs">20</text>
<text x="196.5" y="443" text-anchor="middle" textLength="20.4" lengthAdjust="spacingAndGlyphs">40</text>
<text x="255.5" y="443" text-anchor="middle" textLength="20.4" lengthAdjust="spacingAndGlyphs">60</text>
<text x="313.5" y="443" text-anchor="middle" textLength="20.4" lengthAdjust="spacingAndGlyphs">80</text>
<text x="372.5" y="443" text-anchor="middle" textLength="30.5" lengthAdjust="spacingAndGlyphs">100</text>
<text x="430.5" y="443" text-anchor="middle" textLength="30.5" lengthAdjust="spacingAndGlyphs">120</text>
<text x="489.5" y="443" text-anchor="middle" textLength="30.5" lengthAdjust="spacingAndGlyphs">140</text>
<text x="547.5" y="443" text-anchor="middle" textLength="30.5" lengthAdjust="spacingAndGlyphs">160</text>
<text x="606.5" y="443" text-anchor="middle" textLength="30.5" lengthAdjust="spacingAndGlyphs">180</text>
<text x="341.5" y="471" text-anchor="middle" textLength="46.7" lengthAdjust="spacingAndGlyphs">pixels</text>
<text transform="translate(17.5,221.5) rotate(-90)" text-anchor="middle" textLength="69.4" lengthAdjust="spacingAndGlyphs">intensity</text>
</g>
</svg>
</body></html>
